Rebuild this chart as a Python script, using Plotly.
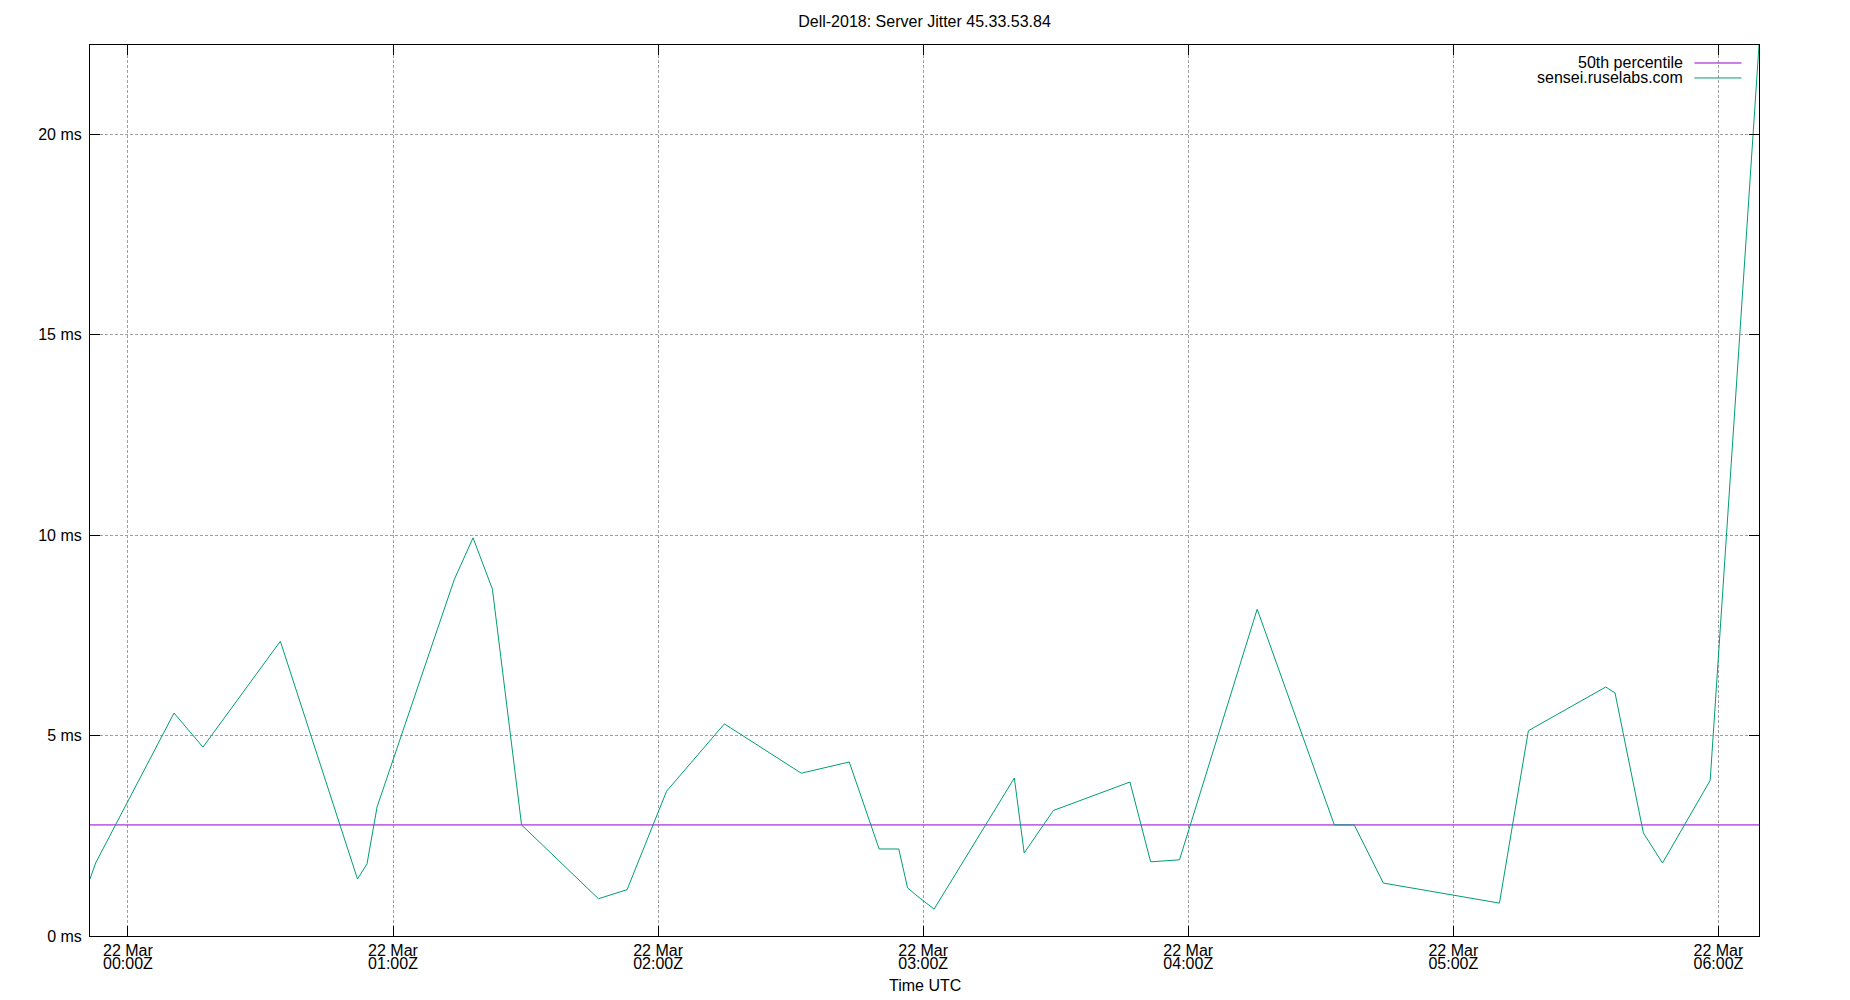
import numpy as np
import plotly.graph_objects as go

# jitter samples (UTC)
times = [
    "2018-03-21 23:51:25", "2018-03-21 23:52:41", "2018-03-22 00:10:26", "2018-03-22 00:16:59",
    "2018-03-22 00:34:30", "2018-03-22 00:51:58", "2018-03-22 00:54:07", "2018-03-22 00:56:24",
    "2018-03-22 01:13:52", "2018-03-22 01:18:07", "2018-03-22 01:22:30", "2018-03-22 01:29:06",
    "2018-03-22 01:46:30", "2018-03-22 01:52:59", "2018-03-22 02:01:55", "2018-03-22 02:15:00",
    "2018-03-22 02:32:24", "2018-03-22 02:43:16", "2018-03-22 02:50:02", "2018-03-22 02:54:29",
    "2018-03-22 02:56:28", "2018-03-22 02:58:37", "2018-03-22 03:02:28", "2018-03-22 03:20:38",
    "2018-03-22 03:22:52", "2018-03-22 03:29:28", "2018-03-22 03:46:48", "2018-03-22 03:51:29",
    "2018-03-22 03:58:01", "2018-03-22 04:15:36", "2018-03-22 04:33:04", "2018-03-22 04:37:34",
    "2018-03-22 04:44:10", "2018-03-22 05:10:26", "2018-03-22 05:16:59", "2018-03-22 05:34:30",
    "2018-03-22 05:36:36", "2018-03-22 05:43:01", "2018-03-22 05:47:20", "2018-03-22 05:58:08",
    "2018-03-22 06:09:11",
]
jitter_ms = [
    1.42, 1.82, 5.56, 4.71, 7.35, 1.42, 1.80, 3.22, 8.89, 9.93,
    8.65, 2.77, 0.93, 1.155, 3.61, 5.29, 4.06, 4.34, 2.17, 2.17,
    1.20, 1.00, 0.67, 3.94, 2.07, 3.13, 3.84, 1.85, 1.90, 8.15,
    2.77, 2.77, 1.32, 0.82, 5.12, 6.21, 6.06, 2.57, 1.82, 3.88,
    22.22,
]

tick_times = ["2018-03-22 %02d:00" % h for h in range(7)]
tick_day = ["22 Mar"] * 7
tick_hour = ["%02d:00Z" % h for h in range(7)]
y_ticks = [0, 5, 10, 15, 20]
y_labels = ["%d ms" % v for v in y_ticks]

median = float(np.median(jitter_ms))

FONT = "Liberation Sans, Arial, sans-serif"
PURPLE = "#9400d3"
GREEN = "#009e73"

fig = go.Figure()
fig.add_trace(go.Scatter(x=[times[0], times[-1]], y=[median, median], mode="lines",
                         line=dict(color=PURPLE, width=1), name="50th percentile"))
fig.add_trace(go.Scatter(x=times, y=jitter_ms, mode="lines",
                         line=dict(color=GREEN, width=1), name="sensei.ruselabs.com"))
# invisible trace so the second (hour) label axis exists
fig.add_trace(go.Scatter(x=[times[0], times[-1]], y=[None, None], xaxis="x2",
                         showlegend=False, hoverinfo="skip"))

axis_common = dict(showline=True, linecolor="black", linewidth=1, mirror="ticks",
                   ticks="inside", ticklen=10, tickcolor="black", tickwidth=1,
                   showgrid=True, gridcolor="#a0a0a0", griddash="3px,2px", gridwidth=1,
                   zeroline=False, tickfont=dict(size=16, color="black", family=FONT))

# page body has an 8px margin, so the figure is a bit smaller than the window
fig.update_layout(
    width=1842, height=992,
    plot_bgcolor="white", paper_bgcolor="white",
    font=dict(family=FONT, size=16, color="black"),
    margin=dict(l=82.3, r=90.7, t=37.3, b=63.7),
    showlegend=False,
    title=dict(text="Dell-2018: Server Jitter 45.33.53.84", x=0.5, xref="paper",
               y=1 - 13 / 992, yref="container", yanchor="middle", xanchor="center",
               font=dict(size=16, color="black")),
    xaxis=dict(type="date", range=[times[0], times[-1]], tickmode="array",
               tickvals=tick_times, ticktext=tick_day, ticklabelstandoff=0, **axis_common),
    xaxis2=dict(type="date", range=[times[0], times[-1]], overlaying="x", anchor="y",
                side="bottom", tickmode="array", tickvals=tick_times, ticktext=tick_hour,
                showline=False, showgrid=False, zeroline=False,
                ticks="outside", ticklen=13, tickcolor="rgba(0,0,0,0)",
                tickfont=dict(size=16, color="black", family=FONT)),
    yaxis=dict(range=[0, max(jitter_ms)], tickmode="array", tickvals=y_ticks,
               ticktext=y_labels, ticklabelstandoff=4, **axis_common),
)

# gnuplot-style key: text right-aligned, sample line on the right
key_rows = [("50th percentile", PURPLE, 0.9798), ("sensei.ruselabs.com", GREEN, 0.963)]
fig.add_shape(type="rect", xref="paper", yref="paper", x0=0.86, x1=0.995, y0=0.952, y1=0.999,
              fillcolor="white", line=dict(width=0), layer="between")
for label, colour, ky in key_rows:
    fig.add_annotation(text=label, xref="paper", yref="paper", x=0.9555, y=ky,
                       xanchor="right", yanchor="middle", showarrow=False,
                       font=dict(size=16, color="black"))
    fig.add_shape(type="line", xref="paper", yref="paper", x0=0.9613, x1=0.9895, y0=ky, y1=ky,
                  line=dict(color=colour, width=1))

fig.add_annotation(text="Time UTC", xref="paper", yref="paper", x=0.5, y=-0.0561,
                   xanchor="center", yanchor="middle", showarrow=False,
                   font=dict(size=16, color="black"))

fig.write_html("out.html")
